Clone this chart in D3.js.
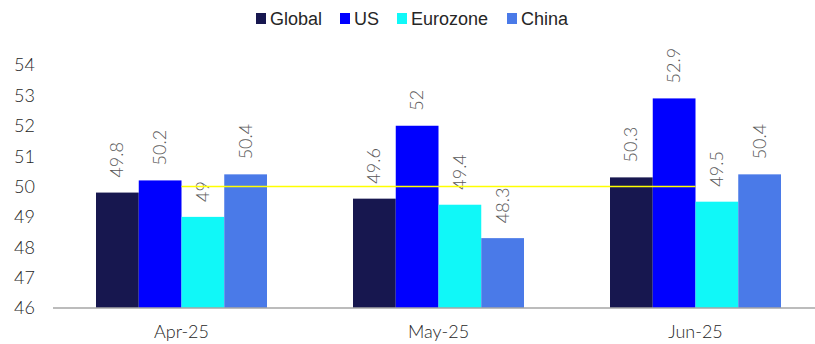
<!DOCTYPE html>
<html>
<head>
<meta charset="utf-8">
<script src="https://cdn.jsdelivr.net/npm/d3@7"></script>
<style>
  body { margin: 0; background: #fff; }
  svg { display: block; }
</style>
</head>
<body>
<svg id="chart" width="815" height="344"></svg>
<script>
// ----------------- DATA ----------------- //
const months = ['Apr-25', 'May-25', 'Jun-25'];
const seriesNames = ['Global', 'US', 'Eurozone', 'China'];
const globalVals = [49.8, 49.6, 50.3];
const usVals = [50.2, 52, 52.9];
const eurozoneVals = [49, 49.4, 49.5];
const chinaVals = [50.4, 48.3, 50.4];
const threshold = [50, 50, 50];
const yTicks = [46, 47, 48, 49, 50, 51, 52, 53, 54];

const colors = ['#17174f', '#0000ff', '#10f8f8', '#4a7ae8'];
const seriesVals = [globalVals, usVals, eurozoneVals, chinaVals];

// ----------------- SCALES ----------------- //
const svg = d3.select('#chart');
const plotLeft = 53, plotRight = 824, plotTop = 65, plotBottom = 308;

const x0 = d3.scaleBand().domain(months).range([plotLeft, plotRight]);
const groupW = 171;
const x1 = d3.scaleBand().domain(seriesNames)
    .range([(x0.step() - groupW) / 2, (x0.step() + groupW) / 2]);
const y = d3.scaleLinear().domain([46, 54]).range([plotBottom, plotTop]);

// ----------------- BARS ----------------- //
const rows = months.map((m, i) => ({
    month: m,
    values: seriesNames.map((s, j) => ({ name: s, value: seriesVals[j][i], color: colors[j] }))
}));

const groups = svg.append('g').selectAll('g')
    .data(rows)
    .join('g')
    .attr('transform', d => 'translate(' + x0(d.month) + ',0)');

groups.selectAll('rect')
    .data(d => d.values)
    .join('rect')
    .attr('x', d => x1(d.name))
    .attr('width', x1.bandwidth())
    .attr('y', d => y(d.value))
    .attr('height', d => y(46) - y(d.value))
    .attr('fill', d => d.color);

groups.selectAll('text')
    .data(d => d.values)
    .join('text')
    .attr('transform', d => 'translate(' + (x1(d.name) + x1.bandwidth() / 2 + 6) + ',' + (y(d.value) - 15) + ') rotate(-90)')
    .attr('font-family', 'Lato, sans-serif')
    .attr('font-weight', 300)
    .attr('font-size', 18)
    .attr('fill', '#595959')
    .text(d => d.value);

// ----------------- THRESHOLD LINE ----------------- //
const line = d3.line()
    .x((d, i) => x0(months[i]) + x0.bandwidth() / 2)
    .y(d => y(d));

svg.append('path')
    .datum(threshold)
    .attr('d', line)
    .attr('fill', 'none')
    .attr('stroke', '#ffff00')
    .attr('stroke-width', 1.5);

// ----------------- AXES ----------------- //
svg.append('line')
    .attr('x1', plotLeft).attr('x2', 815)
    .attr('y1', plotBottom).attr('y2', plotBottom)
    .attr('stroke', '#a6a6a6')
    .attr('stroke-width', 1.5);

svg.append('g').selectAll('text')
    .data(yTicks)
    .join('text')
    .attr('x', 35)
    .attr('y', d => y(d))
    .attr('dy', '0.36em')
    .attr('text-anchor', 'end')
    .attr('font-family', 'Lato, sans-serif')
    .attr('font-weight', 300)
    .attr('font-size', 18)
    .attr('fill', '#262626')
    .text(d => d);

svg.append('g').selectAll('text')
    .data(months)
    .join('text')
    .attr('x', d => x0(d) + x0.bandwidth() / 2)
    .attr('y', 338)
    .attr('text-anchor', 'middle')
    .attr('font-family', 'Lato, sans-serif')
    .attr('font-weight', 300)
    .attr('font-size', 18)
    .attr('fill', '#262626')
    .text(d => d);

// ----------------- LEGEND ----------------- //
const legendX = [256, 340, 397, 507];
const legend = svg.append('g').selectAll('g')
    .data(seriesNames)
    .join('g')
    .attr('transform', (d, i) => 'translate(' + legendX[i] + ',13)');

legend.append('rect')
    .attr('width', 10).attr('height', 11)
    .attr('fill', (d, i) => colors[i]);

legend.append('text')
    .attr('x', 14)
    .attr('y', 6)
    .attr('dy', '0.36em')
    .attr('font-family', '"Liberation Sans", Arial, sans-serif')
    .attr('font-size', 18)
    .attr('fill', '#262626')
    .text(d => d);
</script>
</body>
</html>
